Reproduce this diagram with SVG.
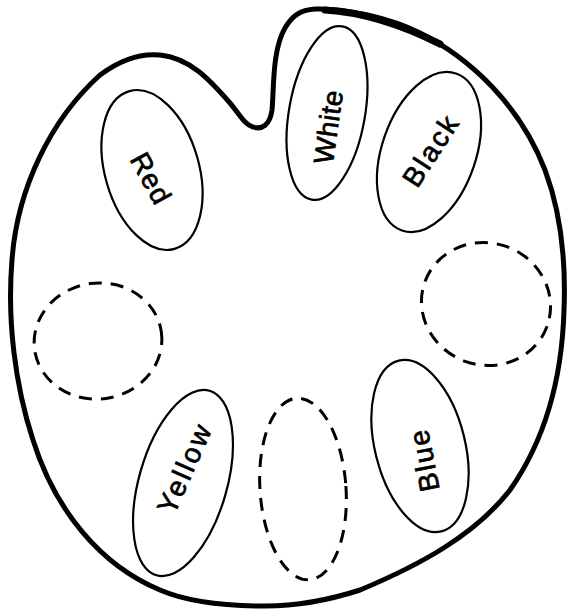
<svg xmlns="http://www.w3.org/2000/svg" width="567" height="609" viewBox="0 0 567 609">
<style>
.outline{fill:none;stroke:#000;stroke-width:5;stroke-linejoin:round;stroke-linecap:round}
.well{fill:none;stroke:#000;stroke-width:2.2}
.empty{fill:none;stroke:#000;stroke-width:3;stroke-dasharray:13 9}
.lbl{font-family:"Liberation Sans","DejaVu Sans",sans-serif;font-size:28px;fill:#000;stroke:#000;stroke-width:0.7;text-anchor:middle}
</style>
<rect width="567" height="609" fill="#fff"/>
<g id="palette">
<path class="outline" d="M 253,127 C 262,130 270,125 272,110 C 274,90 272,50 285,28 C 292,16 300,10 315,9 C 345,8 390,18 420,33 C 470,58 520,105 545,170 C 560,210 566,260 564,310 C 562,380 545,440 510,490 C 475,535 420,565 360,590 C 320,603 285,606 265,606 C 235,606 190,603 160,590 C 100,565 55,510 33,440 C 15,385 7,320 12,260 C 17,190 50,120 100,75 C 120,60 140,53 160,55 C 190,58 210,80 230,103 C 240,115 245,125 253,127 Z"/>
<path class="outline" style="stroke-width:7" d="M 325,10 C 360,12 400,24 440,44"/>
</g>
<g id="red">
<ellipse class="well" cx="152" cy="170" rx="47" ry="82" transform="rotate(-16 152 170)"/>
<text class="lbl" font-size="29" transform="translate(151,178) rotate(61)" y="10" textLength="54">Red</text>
</g>
<g id="white">
<ellipse class="well" cx="327" cy="113" rx="38" ry="88" transform="rotate(10 327 113)"/>
<text class="lbl" transform="translate(328,127) rotate(-82)" y="10" textLength="74">White</text>
</g>
<g id="black">
<ellipse class="well" cx="429" cy="152" rx="47" ry="83" transform="rotate(19 429 152)"/>
<text class="lbl" transform="translate(430,151) rotate(-57)" y="10" textLength="78">Black</text>
</g>
<g id="empty-left">
<ellipse class="empty" cx="98" cy="341" rx="64" ry="58" transform="rotate(-8 98 341)"/>
</g>
<g id="empty-right">
<ellipse class="empty" cx="486" cy="304" rx="65" ry="61" transform="rotate(20 486 304)"/>
</g>
<g id="yellow">
<ellipse class="well" cx="183" cy="483" rx="44" ry="96" transform="rotate(16 183 483)"/>
<text class="lbl" transform="translate(184,469) rotate(-66)" y="10" textLength="94">Yellow</text>
</g>
<g id="empty-bottom">
<ellipse class="empty" cx="303" cy="489" rx="43" ry="91" transform="rotate(-4 303 489)"/>
</g>
<g id="blue">
<ellipse class="well" cx="420" cy="446" rx="45" ry="88" transform="rotate(-14 420 446)"/>
<text class="lbl" transform="translate(424,461) rotate(-101)" y="10" textLength="62">Blue</text>
</g>
<g id="connectors"/>
</svg>
